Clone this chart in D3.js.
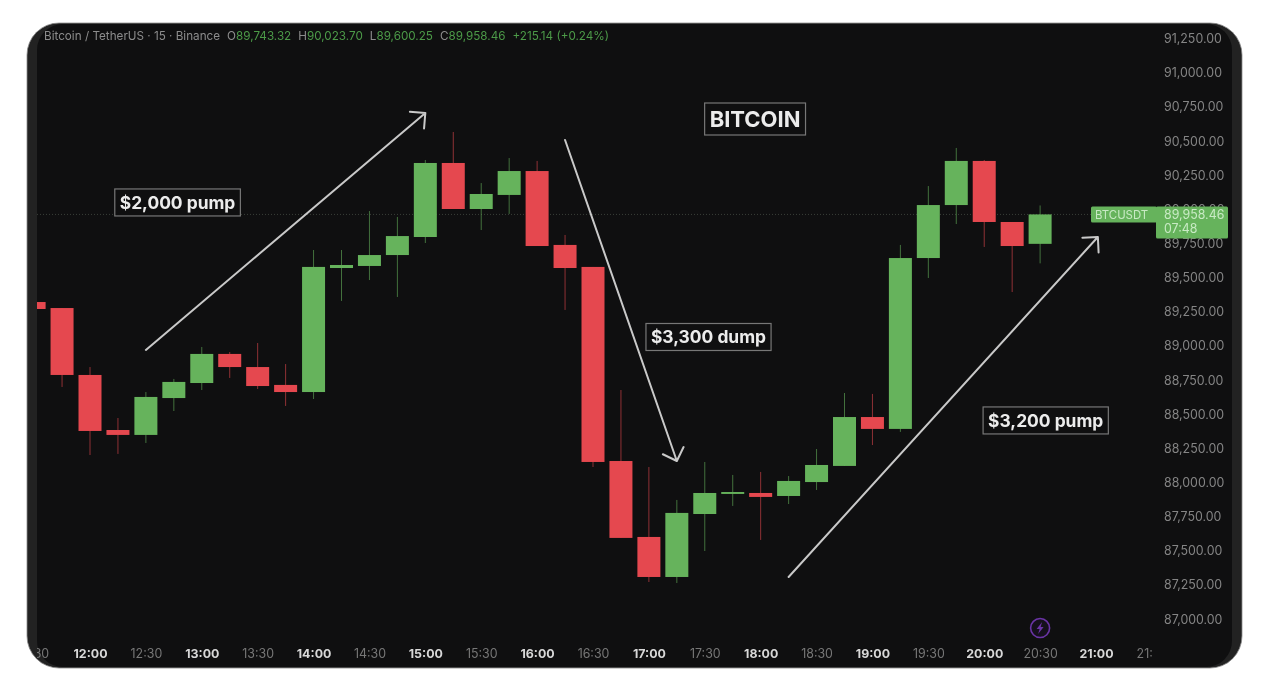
<!DOCTYPE html>
<html lang="en">

<head>
    <meta charset="UTF-8">
    <title>Bitcoin</title>
    <style>
        html,
        body {
            margin: 0;
            height: 100%;
            background: #fff;
        }

        svg {
            display: block;
            filter: blur(0.7px);
        }

        text {
            font-family: Inter, "Liberation Sans", sans-serif;
        }
    </style>
</head>

<body>
    <svg id="chart" width="1278" height="692"></svg>
    <script src="https://cdn.jsdelivr.net/npm/d3@7"></script>
    <script>
        // candles
        var times = ["11:30", "11:45", "12:00", "12:15", "12:30", "12:45", "13:00", "13:15", "13:30", "13:45",
            "14:00", "14:15", "14:30", "14:45", "15:00", "15:15", "15:30", "15:45", "16:00", "16:15",
            "16:30", "16:45", "17:00", "17:15", "17:30", "17:45", "18:00", "18:15", "18:30", "18:45",
            "19:00", "19:15", "19:30", "19:45", "20:00", "20:15", "20:30"];
        var opens = [89317, 89273, 88783, 88380, 88344, 88614, 88724, 88937, 88841, 88710,
            88658, 89566, 89581, 89661, 89793, 90335, 89998, 90101, 90276, 89735,
            89574, 88153, 87597, 87304, 87765, 87912, 87919, 87897, 87999, 88117,
            88475, 88388, 89639, 90027, 90350, 89903, 89743];
        var highs = [89317, 89273, 88841, 88468, 88658, 88754, 88988, 88951, 89017, 88863,
            89698, 89698, 89983, 89940, 90357, 90562, 90188, 90371, 90350, 89808,
            89574, 88673, 88109, 87868, 88146, 88051, 88073, 88043, 88241, 88651,
            88644, 89735, 90166, 90445, 90357, 89903, 90024];
        var lows = [89266, 88695, 88197, 88205, 88285, 88519, 88673, 88761, 88680, 88556,
            88607, 89325, 89478, 89354, 89749, 89998, 89844, 89962, 89727, 89259,
            88109, 87590, 87267, 87260, 87494, 87824, 87575, 87838, 87941, 88117,
            88270, 88366, 89493, 89888, 89720, 89390, 89600];
        var closes = [89266, 88783, 88373, 88344, 88622, 88732, 88937, 88841, 88702, 88658,
            89574, 89588, 89661, 89800, 90335, 89998, 90108, 90276, 89727, 89566,
            88146, 87590, 87304, 87773, 87919, 87926, 87890, 88007, 88124, 88475,
            88388, 89639, 90027, 90350, 89903, 89727, 89958.46];

        var priceTicks = [91250, 91000, 90750, 90500, 90250, 90000, 89750, 89500, 89250, 89000,
            88750, 88500, 88250, 88000, 87750, 87500, 87250, 87000];
        var timeTicks = ["11:30", "12:00", "12:30", "13:00", "13:30", "14:00", "14:30", "15:00", "15:30",
            "16:00", "16:30", "17:00", "17:30", "18:00", "18:30", "19:00", "19:30", "20:00",
            "20:30", "21:00", "21:30"];

        var arrowStarts = [["12:30", 88966], ["16:15", 90503], ["18:15", 87304]];
        var arrowEnds = [["15:00", 90701], ["17:15", 88153], ["21:01", 89793]];

        var noteTexts = ["$2,000 pump", "BITCOIN", "$3,300 dump", "$3,200 pump"];
        var noteAnchors = [["12:47", 90046], ["17:57", 90657], ["17:32", 89061], ["20:33", 88450]];
        var noteSizes = [17.4, 22, 17.4, 17.4];

        var headerTitle = "Bitcoin / TetherUS · 15 · Binance";
        var headerKeys = ["O", "H", "L", "C", ""];
        var headerValues = ["89,743.32", "90,023.70", "89,600.25", "89,958.46", "+215.14 (+0.24%)"];

        var lastPrice = 89958.46;
        var lastPriceLabel = "89,958.46";
        var countdown = "07:48";
        var symbol = "BTCUSDT";
        var boltPrice = 86930;

        var green = "#66b35c", red = "#e5484f";
        var parseTime = d3.utcParse("%H:%M");

        var x = d3.scaleUtc().domain([parseTime("12:00"), parseTime("21:00")]).range([90, 1096]);
        var y = d3.scaleLinear().domain([87000, 91250]).range([618.5, 38]);

        var candles = times.map(function (t, i) {
            return { time: parseTime(t), open: opens[i], high: highs[i], low: lows[i], close: closes[i] };
        });

        var svg = d3.select("#chart");
        var defs = svg.append("defs");
        defs.append("clipPath").attr("id", "plot-clip").append("rect")
            .attr("x", 37).attr("y", 23).attr("width", 1195).attr("height", 645);
        defs.append("clipPath").attr("id", "time-clip").append("rect")
            .attr("x", 37).attr("y", 630).attr("width", 1116).attr("height", 38);

        // panel with its lighter side rims
        svg.append("rect").attr("x", 27).attr("y", 23).attr("width", 1215).attr("height", 645)
            .attr("rx", 32).attr("fill", "#222").attr("stroke", "#8a8a8a").attr("stroke-width", 0.8);
        svg.append("rect").attr("x", 37).attr("y", 24).attr("width", 1195).attr("height", 643)
            .attr("rx", 26).attr("fill", "#0f0f10");

        // price axis
        var priceAxis = svg.append("g")
            .attr("transform", "translate(1164,0.6)")
            .call(d3.axisRight(y).tickValues(priceTicks).tickFormat(d3.format(",.2f")).tickSize(0).tickPadding(0));
        priceAxis.select(".domain").remove();
        priceAxis.selectAll("text").attr("fill", "#858585").style("font-size", "12.4px");

        // time axis
        var timeAxis = svg.append("g")
            .attr("clip-path", "url(#time-clip)")
            .append("g")
            .attr("transform", "translate(0,649)")
            .call(d3.axisBottom(x).tickValues(timeTicks.map(parseTime)).tickFormat(d3.utcFormat("%H:%M")).tickSize(0).tickPadding(0));
        timeAxis.select(".domain").remove();
        timeAxis.selectAll("text")
            .style("font-size", "12.4px")
            .attr("fill", function (d) { return d.getUTCMinutes() === 0 ? "#d8d8d8" : "#777"; })
            .attr("font-weight", function (d) { return d.getUTCMinutes() === 0 ? 700 : 400; });

        var plot = svg.append("g").attr("clip-path", "url(#plot-clip)");

        // last price line
        plot.append("line")
            .attr("x1", 37).attr("x2", 1160)
            .attr("y1", y(lastPrice)).attr("y2", y(lastPrice))
            .attr("stroke", "#3a3f39").attr("stroke-width", 1).attr("stroke-dasharray", "1 2");

        var candle = plot.selectAll("g.candle").data(candles).join("g").attr("class", "candle");
        candle.append("line")
            .attr("x1", function (d) { return x(d.time); })
            .attr("x2", function (d) { return x(d.time); })
            .attr("y1", function (d) { return y(d.high); })
            .attr("y2", function (d) { return y(d.low); })
            .attr("stroke", function (d) { return d.close >= d.open ? green : red; })
            .attr("stroke-width", 1)
            .attr("stroke-opacity", 0.6);
        candle.append("rect")
            .attr("x", function (d) { return x(d.time) - 11.5; })
            .attr("width", 23)
            .attr("y", function (d) { return y(Math.max(d.open, d.close)); })
            .attr("height", function (d) { return Math.max(1.5, Math.abs(y(d.open) - y(d.close))); })
            .attr("fill", function (d) { return d.close >= d.open ? green : red; });

        // hand drawn arrows
        var arrows = svg.append("g").attr("fill", "none").attr("stroke", "#c9c9c9")
            .attr("stroke-width", 2).attr("stroke-linecap", "round").attr("stroke-linejoin", "round");
        arrowStarts.forEach(function (s, i) {
            var e = arrowEnds[i],
                x0 = x(parseTime(s[0])), y0 = y(s[1]),
                x1 = x(parseTime(e[0])), y1 = y(e[1]),
                a = Math.atan2(y1 - y0, x1 - x0),
                h = 15.5, spread = Math.PI / 4;
            var path = d3.path();
            path.moveTo(x0, y0);
            path.lineTo(x1, y1);
            path.moveTo(x1 - h * Math.cos(a - spread), y1 - h * Math.sin(a - spread));
            path.lineTo(x1, y1);
            path.lineTo(x1 - h * Math.cos(a + spread), y1 - h * Math.sin(a + spread));
            arrows.append("path").attr("d", path.toString());
        });

        // boxed notes
        noteTexts.forEach(function (t, i) {
            var cx = x(parseTime(noteAnchors[i][0])), cy = y(noteAnchors[i][1]);
            var g = svg.append("g");
            var box = g.append("rect");
            var label = g.append("text")
                .attr("x", cx).attr("y", cy)
                .attr("text-anchor", "middle").attr("dy", "0.36em")
                .attr("fill", "#ececec").attr("font-weight", 700)
                .style("font-size", noteSizes[i] + "px")
                .text(t);
            var b = label.node().getBBox();
            box.attr("x", b.x - 5).attr("y", cy - (i === 1 ? 16 : 13.5))
                .attr("width", b.width + 10).attr("height", i === 1 ? 32 : 27)
                .attr("fill", "#0f0f10").attr("stroke", "#777").attr("stroke-width", 1.2);
        });

        // header line
        var header = svg.append("text").attr("x", 44).attr("y", 39.5).style("font-size", "11.7px");
        header.append("tspan").attr("fill", "#8c8c8c").text(headerTitle);
        headerValues.forEach(function (v, i) {
            if (headerKeys[i]) {
                header.append("tspan").attr("dx", 7).attr("fill", "#8c8c8c").text(headerKeys[i]);
                header.append("tspan").attr("fill", "#4c9a48").text(v);
            } else {
                header.append("tspan").attr("dx", 7).attr("fill", "#4c9a48").text(v);
            }
        });

        // last price tags
        var tagY = y(lastPrice);
        svg.append("rect").attr("x", 1091).attr("y", tagY - 8).attr("width", 66).attr("height", 16)
            .attr("rx", 1.5).attr("fill", green);
        svg.append("rect").attr("x", 1156).attr("y", tagY - 8).attr("width", 72).attr("height", 32)
            .attr("rx", 1.5).attr("fill", green);
        svg.append("text").attr("x", 1095).attr("y", tagY).attr("dy", "0.36em")
            .attr("fill", "#c8eac4").style("font-size", "11.4px").text(symbol);
        svg.append("text").attr("x", 1164).attr("y", tagY).attr("dy", "0.36em")
            .attr("fill", "#c8eac4").style("font-size", "12.4px").text(lastPriceLabel);
        svg.append("text").attr("x", 1164).attr("y", tagY + 14).attr("dy", "0.36em")
            .attr("fill", "#c8eac4").style("font-size", "12.4px").text(countdown);

        // lightning marker under the last candle
        var boltX = x(candles[candles.length - 1].time), boltY = y(boltPrice);
        var bolt = svg.append("g").attr("transform", "translate(" + boltX + "," + boltY + ")");
        bolt.append("circle").attr("r", 9.5).attr("fill", "#15101c").attr("stroke", "#6a34a5").attr("stroke-width", 1.6);
        bolt.append("path").attr("d", "M2,-6 L-3.5,1 L-0.5,1 L-2,6 L3.5,-1 L0.5,-1 Z").attr("fill", "#6a34a5");
    </script>
</body>

</html>
